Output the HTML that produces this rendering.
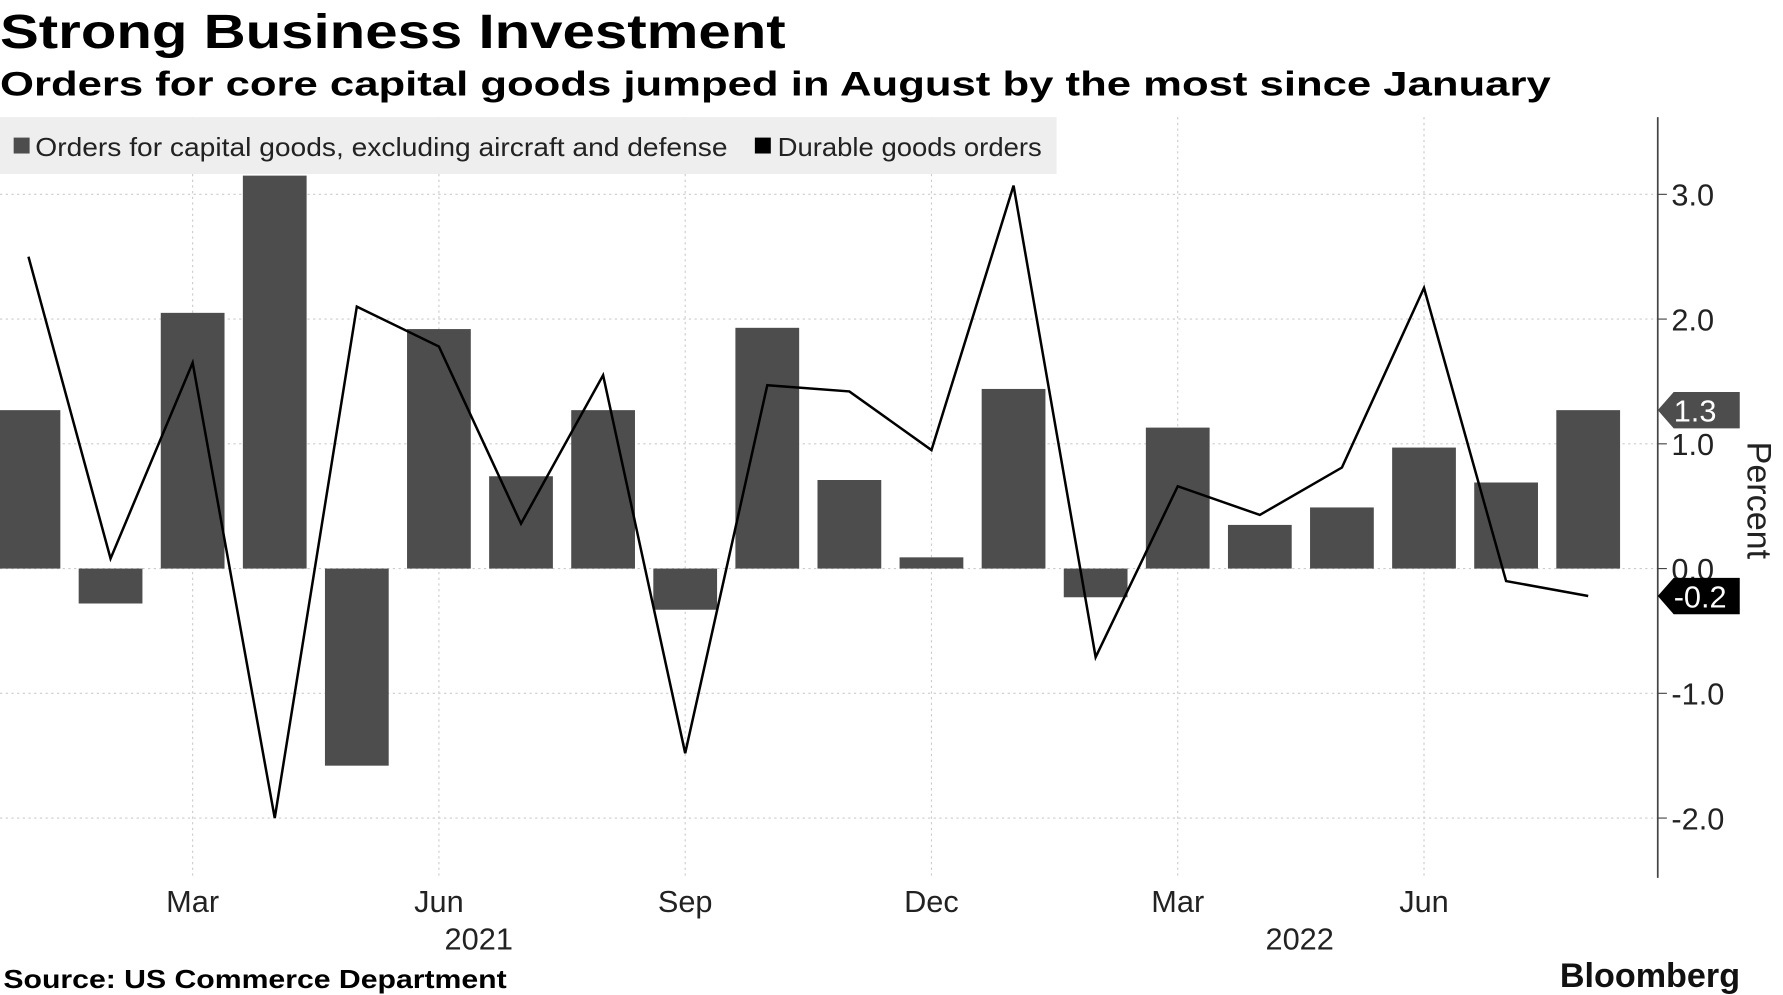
<!DOCTYPE html>
<html><head><meta charset="utf-8"><style>
html,body{margin:0;padding:0;background:#fff;}
svg{display:block;}
text{font-family:"Liberation Sans",sans-serif;}
</style></head><body>
<svg id="chart" width="1783" height="995" viewBox="0 0 1566 875" preserveAspectRatio="none" xmlns="http://www.w3.org/2000/svg">
<text x="0" y="42" font-size="42" font-weight="bold" font-family="DejaVu Sans" textLength="690" lengthAdjust="spacingAndGlyphs">Strong Business Investment</text>
<text x="0" y="84" font-size="30" font-weight="bold" font-family="DejaVu Sans" textLength="1362" lengthAdjust="spacingAndGlyphs">Orders for core capital goods jumped in August by the most since January</text>
<g id="grid"></g>
<g id="bars"></g>
<g id="line"></g>
<rect x="0" y="103" width="928" height="50" fill="#eeeeee"/>
<rect x="12" y="121" width="14" height="14" fill="#4d4d4d"/>
<text x="31" y="137" font-size="23" fill="#222" font-family="DejaVu Sans" textLength="608" lengthAdjust="spacingAndGlyphs">Orders for capital goods, excluding aircraft and defense</text>
<rect x="663" y="121" width="14" height="14" fill="#000"/>
<text x="683" y="137" font-size="23" fill="#222" font-family="DejaVu Sans" textLength="232" lengthAdjust="spacingAndGlyphs">Durable goods orders</text>
<g id="axis"></g>
<text transform="translate(1535,440) rotate(90)" text-anchor="middle" font-size="30" fill="#222">Percent</text>
<text x="3" y="869" font-size="23" font-weight="bold" font-family="DejaVu Sans" textLength="442" lengthAdjust="spacingAndGlyphs">Source: US Commerce Department</text>
<text x="1370" y="868" font-size="30" font-weight="bold" fill="#111">Bloomberg</text>
</svg>
<script>
const months=["Jan","Feb","Mar","Apr","May","Jun","Jul","Aug","Sep","Oct","Nov","Dec","Jan","Feb","Mar","Apr","May","Jun","Jul","Aug"];
const capitalGoods=[1.27,-0.28,2.05,3.15,-1.58,1.92,0.74,1.27,-0.33,1.93,0.71,0.09,1.44,-0.23,1.13,0.35,0.49,0.97,0.69,1.27];
const durableGoods=[2.5,0.08,1.65,-2.0,2.1,1.78,0.36,1.55,-1.48,1.47,1.42,0.95,3.07,-0.71,0.66,0.43,0.81,2.25,-0.1,-0.22];
const yTicks=[3,2,1,0,-1,-2];
const yTickLabels=["3.0","2.0","1.0","0.0","-1.0","-2.0"];
const xTickIdx=[2,5,8,11,14,17];
const xTickLabels=["Mar","Jun","Sep","Dec","Mar","Jun"];
const yearIdx=[5,15];
const yearLabels=["2021","2022"];
const NS="http://www.w3.org/2000/svg";
const x=i=>25+i*72.1;
const y=v=>500-v*109.7;
function mk(tag,attrs,parent,txt){const e=document.createElementNS(NS,tag);for(const k in attrs)e.setAttribute(k,attrs[k]);if(txt!==undefined)e.textContent=txt;document.getElementById(parent)?document.getElementById(parent).appendChild(e):parent.appendChild(e);return e;}
const grid=document.getElementById('grid'),bars=document.getElementById('bars'),line=document.getElementById('line'),axis=document.getElementById('axis');
yTicks.forEach((t,i)=>{
 const g=mk('line',{x1:0,x2:1456,y1:y(t),y2:y(t),stroke:'#cccccc','stroke-dasharray':'2,3'},grid);
 
 const tk=mk('line',{x1:1456,x2:1464,y1:y(t),y2:y(t),stroke:'#444'},axis);
 
 const l=mk('text',{x:1468,y:y(t)+10,'font-size':27,fill:'#222'},axis,yTickLabels[i]);
 
});
xTickIdx.forEach((idx,i)=>{
 const g=mk('line',{x1:x(idx),x2:x(idx),y1:103,y2:772,stroke:'#cccccc','stroke-dasharray':'2,3'},grid);
 
 const l=mk('text',{x:x(idx),y:802,'font-size':27,fill:'#222','text-anchor':'middle'},axis,xTickLabels[i]);
 
});
yearIdx.forEach((idx,i)=>{
 const l=mk('text',{x:x(idx)+35,y:835,'font-size':27,fill:'#222','text-anchor':'middle'},axis,yearLabels[i]);
 
});
const al=mk('line',{x1:1456,x2:1456,y1:103,y2:772,stroke:'#444','stroke-width':1.5},axis);

capitalGoods.forEach((v,i)=>{
 const r=mk('rect',{x:x(i)-28,width:56,y:Math.min(y(v),y(0)),height:Math.abs(y(v)-y(0)),fill:'#4d4d4d'},bars);
 
});
const p=mk('polyline',{points:durableGoods.map((v,i)=>x(i)+','+y(v)).join(' '),fill:'none',stroke:'#000','stroke-width':2.2,'stroke-linejoin':'miter'},line);

function tag(v,fill,txt,name){
 const yy=y(v);
 const t=mk('path',{d:`M1456 ${yy} L1470 ${yy-16} L1528 ${yy-16} L1528 ${yy+16} L1470 ${yy+16} Z`,fill:fill},axis);
 
 const l=mk('text',{x:1470,y:yy+10,'font-size':27,fill:'#fff'},axis,txt);
 
}
tag(capitalGoods[capitalGoods.length-1],'#4d4d4d',capitalGoods[capitalGoods.length-1].toFixed(1),'last-value-tag-capital');
tag(durableGoods[durableGoods.length-1],'#000',durableGoods[durableGoods.length-1].toFixed(1),'last-value-tag-durable');
</script>
</body></html>
